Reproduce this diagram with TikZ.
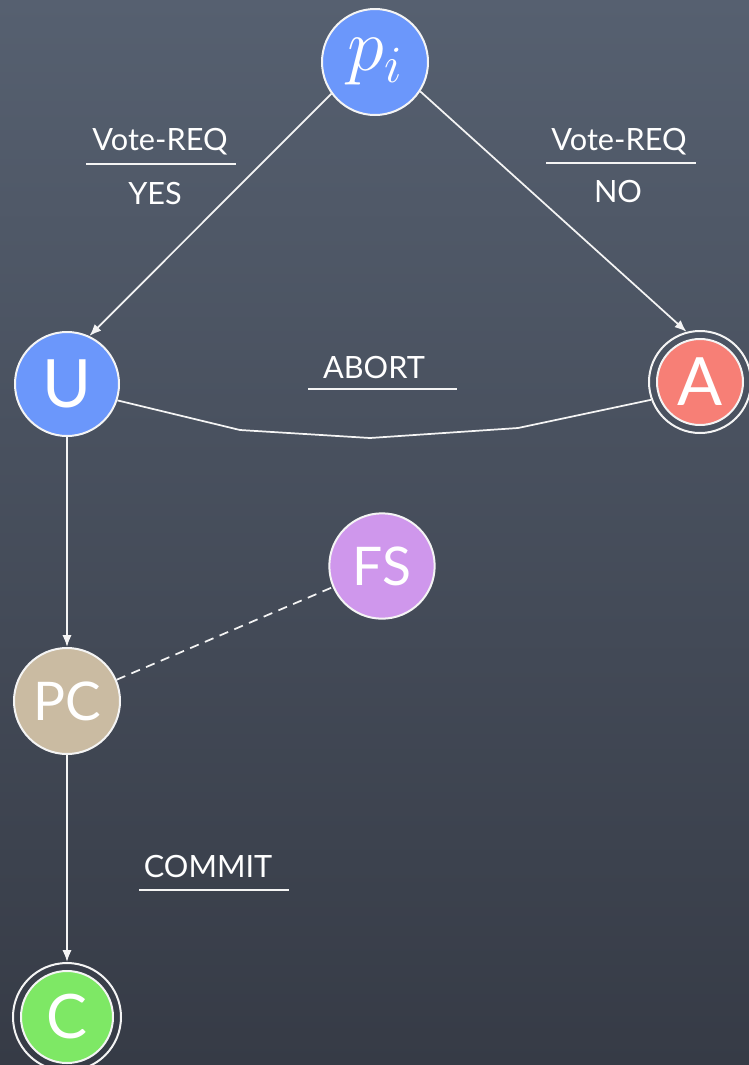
\RequirePackage{fix-cm}
\documentclass[tikz,border=0pt]{standalone}
\usepackage{fontspec}
\setmainfont{Lato}
\usetikzlibrary{arrows.meta}
\definecolor{bgtop}{HTML}{566070}
\definecolor{bgbot}{HTML}{363B46}
\definecolor{stblue}{HTML}{6B97FB}
\definecolor{stred}{HTML}{F77F76}
\definecolor{stpurple}{HTML}{CF97EC}
\definecolor{sttan}{HTML}{CABBA2}
\definecolor{stgreen}{HTML}{7EE865}
\definecolor{chalk}{HTML}{F4F4F4}
\begin{document}
\begin{tikzpicture}[x=0.75pt,y=-0.75pt,
  state/.style={circle, draw=chalk, line width=1.5pt, text=white, inner sep=0pt, minimum size=79pt},
  ring/.style={circle, draw=chalk, line width=1.5pt, inner sep=0pt},
  bigtxt/.style={font=\fontsize{50}{56}\selectfont},
  midtxt/.style={font=\fontsize{40}{46}\selectfont},
  lbl/.style={text=white, inner sep=0pt, font=\fontsize{23}{27}\selectfont},
  uline/.style={draw=chalk, line width=1.3pt},
  conn/.style={draw=chalk, line width=1.3pt},
  arr/.style={conn, -{Latex[length=9pt,width=7pt]}},
  dashconn/.style={conn, dash pattern=on 7pt off 5pt}
]
\useasboundingbox (0,0) rectangle (749,1065);
\fill[top color=bgtop, bottom color=bgbot] (0,0) rectangle (749,1065);

% states
\node[state, fill=stblue, minimum size=79.5pt, font=\fontsize{56}{60}\selectfont] (pi) at (375,62) {$p_i$};
\node[state, fill=stblue, minimum size=78pt, bigtxt] (U) at (67,384) {U};
\node[state, fill=stred, minimum size=64.5pt, bigtxt] (A) at (700,382) {A};
\node[ring, minimum size=76.5pt] (Aring) at (700,382) {};
\node[state, fill=stpurple, minimum size=79pt, midtxt] (FS) at (382,566) {FS};
\node[state, fill=sttan, minimum size=79.5pt, midtxt] (PC) at (67,701) {PC};
\node[state, fill=stgreen, minimum size=69pt, font=\fontsize{46}{50}\selectfont] (C) at (67,1017) {C};
\node[ring, minimum size=81pt] (Cring) at (67,1017) {};

% connectors
\coordinate (b1) at (240,430);
\coordinate (b2) at (370,438);
\coordinate (b3) at (518,428);
\draw[arr] (pi.216) -- (U.65);
\draw[arr] (pi.327) -- (Aring.105);
\draw[conn] (U.-18) -- (b1) -- (b2) -- (b3) -- (Aring.200);
\draw[arr] (U) -- (PC);
\draw[arr] (PC) -- (Cring);
\draw[dashconn] (PC) -- (FS);

% labels
\node[lbl] (vl) at (160,142) {Vote-REQ};
\draw[uline] (86,164) -- (236,164);
\node[lbl] (yes) at (155,194) {YES};
\node[lbl] (vr) at (619,142) {Vote-REQ};
\draw[uline] (546,163) -- (696,163);
\node[lbl] (no) at (618,191) {NO};
\node[lbl] (ab) at (374,367) {ABORT};
\draw[uline] (308,389) -- (457,389);
\node[lbl] (cm) at (208,867) {COMMIT};
\draw[uline] (139,890) -- (289,890);
\end{tikzpicture}
\end{document}
